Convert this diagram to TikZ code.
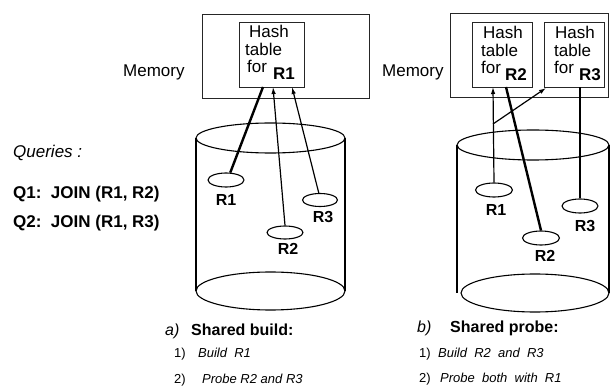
\documentclass[tikz,border=0pt]{standalone}
\usepackage{fontspec}
\setmainfont{Liberation Sans}
\usetikzlibrary{arrows.meta,shapes.geometric}
\newcommand\szBig{\fontsize{17}{18}\selectfont}
\newcommand\szMid{\fontsize{16}{18}\selectfont}
\newcommand\szSmall{\fontsize{13}{15}\selectfont}
\begin{document}
\begin{tikzpicture}[x=1pt,y=-1pt,
  box/.style={draw=black!85,line width=0.8pt,inner sep=0,rectangle},
  cyl/.style={line width=1.1pt},
  relell/.style={draw,ellipse,line width=1.1pt,inner sep=0,minimum width=36pt,minimum height=14pt},
  lbl/.style={inner sep=0,anchor=base west},
  rlab/.style={inner sep=0,anchor=center,font=\szMid\bfseries},
  thin/.style={line width=1.2pt,-{Latex[length=7pt,width=4.5pt]}},
  thick/.style={line width=2.4pt}
]
\useasboundingbox (0,0) rectangle (611,390);

% ---------- left: shared build ----------
\node[box,minimum width=167pt,minimum height=84pt] (memL) at (285.5,56) {};
\node[box,minimum width=65pt,minimum height=65pt] (hA) at (271.5,54.5) {};
\node[lbl,font=\szBig] (memLt) at (123,76.5) {Memory};
\node[lbl,font=\szBig] (hA1t) at (249,38) {Hash};
\node[lbl,font=\szBig] (hA2t) at (245,56) {table};
\node[lbl,font=\szBig] (hA3t) at (247,73) {for};
\node[lbl,font=\szBig\bfseries] (hA4t) at (273,80) {R1};

\draw[cyl] (270.5,138) ellipse [x radius=74.5pt,y radius=15pt];
\draw[cyl] (196,138) -- (196,291);
\draw[cyl] (345,138) -- (345,291);
\draw[cyl] (270.5,291) ellipse [x radius=74.5pt,y radius=19pt];

\node[relell] (lR1) at (226,180) {};
\node[relell,minimum height=13pt] (lR2) at (285,232.5) {};
\node[relell,minimum width=35pt,minimum height=13pt] (lR3) at (320,200) {};
\node[rlab] (lR1t) at (226,200) {R1};
\node[rlab] (lR2t) at (288,249) {R2};
\node[rlab] (lR3t) at (323,217) {R3};

\coordinate (cA1) at (263,87);
\coordinate (cA2) at (273,87);
\coordinate (cA3) at (292,87);
\draw[thick] (lR1.60) -- (cA1);
\draw[thin] (lR2.north) -- (cA2);
\draw[thin] (lR3.100) -- (cA3);

% ---------- right: shared probe ----------
\node[box,minimum width=158pt,minimum height=84pt] (memR) at (529,55) {};
\node[box,minimum width=60pt,minimum height=65pt] (hB) at (502,54.5) {};
\node[box,minimum width=60pt,minimum height=65pt] (hC) at (574,54.5) {};
\node[lbl,font=\szBig] (memRt) at (382,77) {Memory};
\node[lbl,font=\szBig] (hB1t) at (483,39) {Hash};
\node[lbl,font=\szBig] (hB2t) at (481,56.5) {table};
\node[lbl,font=\szBig] (hB3t) at (481,74) {for};
\node[lbl,font=\szBig\bfseries] (hB4t) at (505,81) {R2};
\node[lbl,font=\szBig] (hC1t) at (555,39) {Hash};
\node[lbl,font=\szBig] (hC2t) at (554,56.5) {table};
\node[lbl,font=\szBig] (hC3t) at (554,74) {for};
\node[lbl,font=\szBig\bfseries] (hC4t) at (579,81) {R3};

\draw[cyl] (533,145) ellipse [x radius=76pt,y radius=15pt];
\draw[cyl] (457,145) -- (457,293);
\draw[cyl] (609,145) -- (609,293);
\draw[cyl] (535,293) ellipse [x radius=74pt,y radius=19pt];

\node[relell,minimum width=37pt] (rR1) at (494,190) {};
\node[relell,minimum width=37pt] (rR2) at (541,238) {};
\node[relell] (rR3) at (580,206) {};
\node[rlab] (rR1t) at (496,210) {R1};
\node[rlab] (rR2t) at (545,256) {R2};
\node[rlab] (rR3t) at (585,226) {R3};

\coordinate (cB1) at (493,87);
\coordinate (cB2) at (506,87);
\coordinate (cC1) at (546,88);
\coordinate (cC2) at (580,87);
\coordinate (br) at (493,124);
\draw[thin] (rR1.north) -- (cB1);
\draw[thin] (br) -- (cC1);
\draw[thick] (rR2.north) -- (cB2);
\draw[thick] (rR3.north) -- (cC2);

% ---------- queries ----------
\node[lbl,font=\szBig\itshape] (qh) at (13,158) {Queries :};
\node[lbl,font=\szBig\bfseries] (q1) at (13,199) {Q1:\ \ JOIN (R1, R2)};
\node[lbl,font=\szBig\bfseries] (q2) at (13,228) {Q2:\ \ JOIN (R1, R3)};

% ---------- captions ----------
\node[lbl,font=\szMid\itshape] (ca) at (165,335) {a)};
\node[lbl,font=\szMid\bfseries] (cat) at (191,335) {Shared build:};
\node[lbl,font=\szSmall] (ca1n) at (174,358) {1)};
\node[lbl,font=\szSmall\itshape] (ca1) at (198,358) {Build\ \ R1};
\node[lbl,font=\szSmall] (ca2n) at (174,383) {2)};
\node[lbl,font=\szSmall\itshape] (ca2) at (202,383) {Probe R2 and R3};

\node[lbl,font=\szMid\itshape] (cb) at (417,333) {b)};
\node[lbl,font=\szMid\bfseries] (cbt) at (450,333) {Shared probe:};
\node[lbl,font=\szSmall] (cb1n) at (419,357) {1)};
\node[lbl,font=\szSmall\itshape] (cb1) at (438,357) {Build\ \ R2\ \ and\ \ R3};
\node[lbl,font=\szSmall] (cb2n) at (419,382) {2)};
\node[lbl,font=\szSmall\itshape] (cb2) at (440,382) {Probe\ \ both\ \ with\ \ R1};
\end{tikzpicture}
\end{document}
